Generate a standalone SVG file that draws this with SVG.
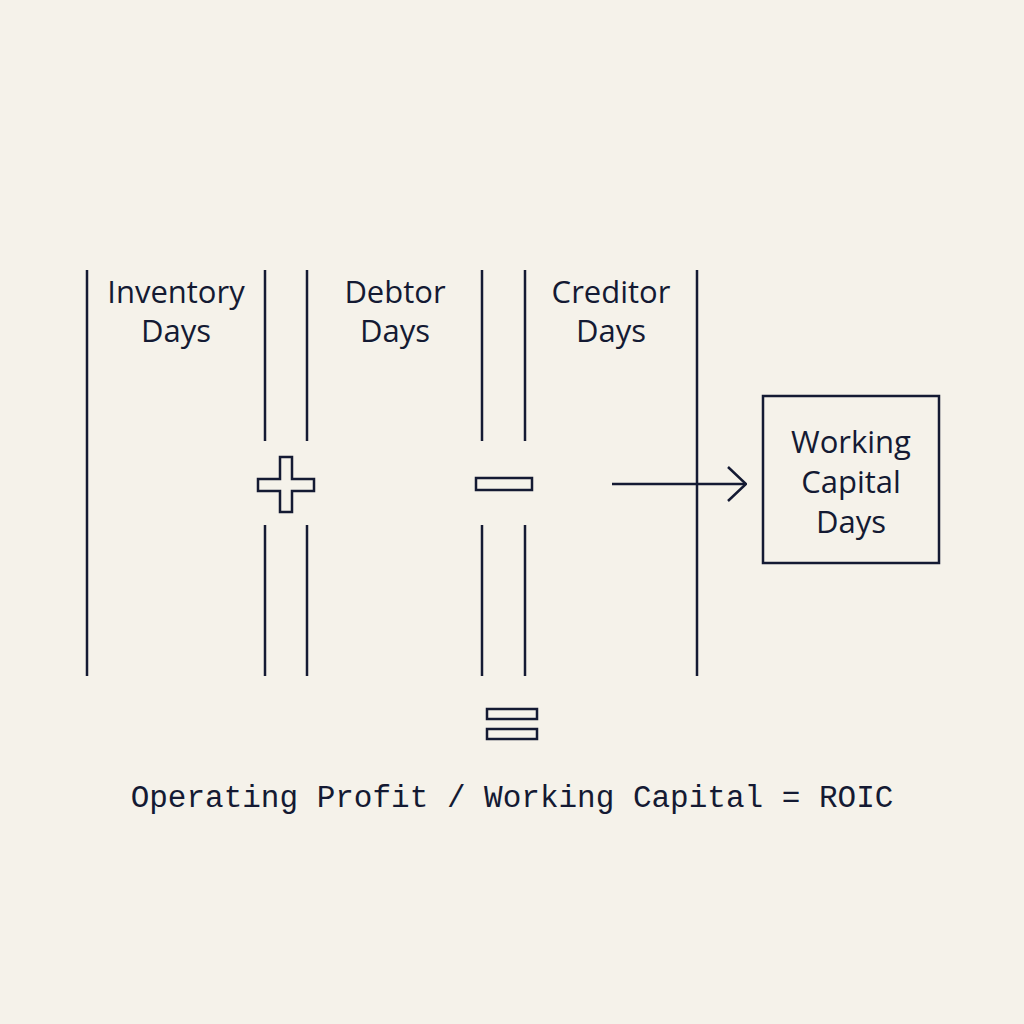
<svg xmlns="http://www.w3.org/2000/svg" width="1024" height="1024" viewBox="0 0 1024 1024">
<style>
.ln{stroke:#141a33;stroke-width:2.5;fill:none}
.sym{stroke:#141a33;stroke-width:2.5;fill:#f5f2ea}
.lbl{font-family:"Open Sans","Noto Sans","Liberation Sans",sans-serif;font-size:31px;fill:#141a33;text-anchor:middle}
.mono{font-family:"Liberation Mono","DejaVu Sans Mono",monospace;font-size:31px;fill:#141a33;text-anchor:middle}
</style>
<defs>
<marker id="chev" viewBox="0 0 20 36" refX="19" refY="18" markerWidth="20" markerHeight="36" markerUnits="userSpaceOnUse" orient="auto">
<path d="M1,1 L19,18 L1,35" fill="none" stroke="#141a33" stroke-width="2.5"/>
</marker>
</defs>
<rect width="1024" height="1024" fill="#f5f2ea"/>
<g id="columns">
<line class="ln" x1="87" y1="270" x2="87" y2="676"/>
<line class="ln" x1="265" y1="270" x2="265" y2="441"/>
<line class="ln" x1="265" y1="525" x2="265" y2="676"/>
<line class="ln" x1="307" y1="270" x2="307" y2="441"/>
<line class="ln" x1="307" y1="525" x2="307" y2="676"/>
<line class="ln" x1="482" y1="270" x2="482" y2="441"/>
<line class="ln" x1="482" y1="525" x2="482" y2="676"/>
<line class="ln" x1="525" y1="270" x2="525" y2="441"/>
<line class="ln" x1="525" y1="525" x2="525" y2="676"/>
<line class="ln" x1="697" y1="270" x2="697" y2="676"/>
</g>
<g id="inventory-days">
<text class="lbl" x="176" y="303">Inventory</text>
<text class="lbl" x="176" y="342">Days</text>
</g>
<g id="debtor-days">
<text class="lbl" x="395" y="303">Debtor</text>
<text class="lbl" x="395" y="342">Days</text>
</g>
<g id="creditor-days">
<text class="lbl" x="611" y="303">Creditor</text>
<text class="lbl" x="611" y="342">Days</text>
</g>
<g id="plus">
<path class="sym" d="M280,457 H292 V479 H314 V491 H292 V512 H280 V491 H258 V479 H280 Z"/>
</g>
<g id="minus">
<rect class="sym" x="476" y="478" width="56" height="12"/>
</g>
<g id="equals">
<rect class="sym" x="487" y="709" width="50" height="10"/>
<rect class="sym" x="487" y="729" width="50" height="10"/>
</g>
<g id="working-capital-days">
<rect class="ln" x="763" y="396" width="176" height="167"/>
<text class="lbl" x="851" y="453">Working</text>
<text class="lbl" x="851" y="493">Capital</text>
<text class="lbl" x="851" y="533">Days</text>
</g>
<g id="connectors">
<line class="ln" x1="612" y1="484" x2="746" y2="484" marker-end="url(#chev)"/>
</g>
<g id="formula">
<text class="mono" x="512" y="807">Operating Profit / Working Capital = ROIC</text>
</g>
</svg>
